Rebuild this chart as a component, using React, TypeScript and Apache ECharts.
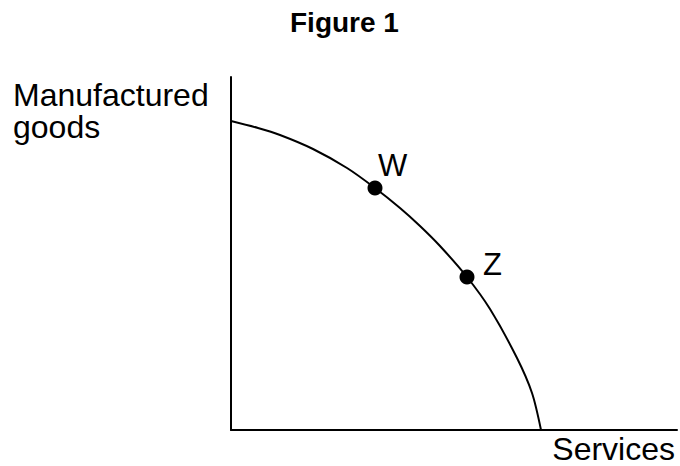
import React, { useEffect, useRef } from "react";
import * as echarts from "echarts";

// Production possibility curve (Services, Manufactured goods)
const curveServices = [0, 27, 49, 82, 116, 144, 169, 189, 209, 236, 259, 286, 301, 310];
const curveGoods = [309, 302, 295, 281, 262, 242, 222, 204, 184, 153, 121, 72, 37, 0];

const pointNames = ["W", "Z"];
const pointServices = [144, 236];
const pointGoods = [242, 153];

const xMax = 446;
const yMax = 353;

const titleText = "Figure 1";
const yName = ["Manufactured", "goods"];
const xName = "Services";

export default function App() {
  const ref = useRef<HTMLDivElement>(null);

  useEffect(() => {
    document.body.style.margin = "0";
    if (!ref.current) return;
    const chart = echarts.init(ref.current, undefined, { renderer: "svg" });
    const font = "'Liberation Sans', Arial, Helvetica, sans-serif";
    const labelOffsets: Record<string, number[]> = { W: [10.5, -15.5], Z: [23.5, -5] };

    chart.setOption({
      animation: false,
      backgroundColor: "#ffffff",
      grid: { left: 231, right: 3, top: 77, bottom: 36, containLabel: false },
      xAxis: {
        type: "value",
        min: 0,
        max: xMax,
        axisLine: { show: true, lineStyle: { color: "#000", width: 2 } },
        axisTick: { show: false },
        axisLabel: { show: false },
        splitLine: { show: false },
      },
      yAxis: {
        type: "value",
        min: 0,
        max: yMax,
        axisLine: { show: true, lineStyle: { color: "#000", width: 2 } },
        axisTick: { show: false },
        axisLabel: { show: false },
        splitLine: { show: false },
      },
      graphic: [
        {
          type: "text",
          left: 344 - 54,
          top: 8,
          style: {
            text: titleText,
            x: 0,
            y: 0,
            fontSize: 28,
            fontWeight: "bold",
            fontFamily: font,
            fill: "#000",
          },
          silent: true,
        },
        {
          type: "text",
          x: 13,
          y: 79,
          style: {
            text: yName.join("\n"),
            align: "left",
            verticalAlign: "top",
            lineHeight: 32,
            fontSize: 32,
            fontFamily: font,
            fill: "#000",
          },
          silent: true,
        },
        {
          type: "text",
          x: 675,
          y: 449,
          style: {
            text: xName,
            align: "right",
            verticalAlign: "middle",
            fontSize: 32,
            fontFamily: font,
            fill: "#000",
          },
          silent: true,
        },
      ],
      series: [
        {
          type: "line",
          data: curveServices.map((x, i) => [x, curveGoods[i]]),
          smooth: 0.3,
          showSymbol: false,
          silent: true,
          lineStyle: { color: "#000", width: 2 },
        },
        {
          type: "scatter",
          data: pointNames.map((n, i) => ({
            name: n,
            value: [pointServices[i], pointGoods[i]],
            label: {
              show: true,
              position: labelOffsets[n],
              align: "left",
              verticalAlign: "middle",
              formatter: "{b}",
              fontSize: 31,
              fontFamily: font,
              color: "#000",
              opacity: 1,
            },
          })),
          symbol: "circle",
          symbolSize: 15,
          silent: true,
          itemStyle: { color: "#000", opacity: 1 },
        },
      ],
    });
    return () => chart.dispose();
  }, []);

  return (
    <div
      ref={ref}
      style={{ position: "absolute", left: 0, top: 0, width: 680, height: 466 }}
    />
  );
}
